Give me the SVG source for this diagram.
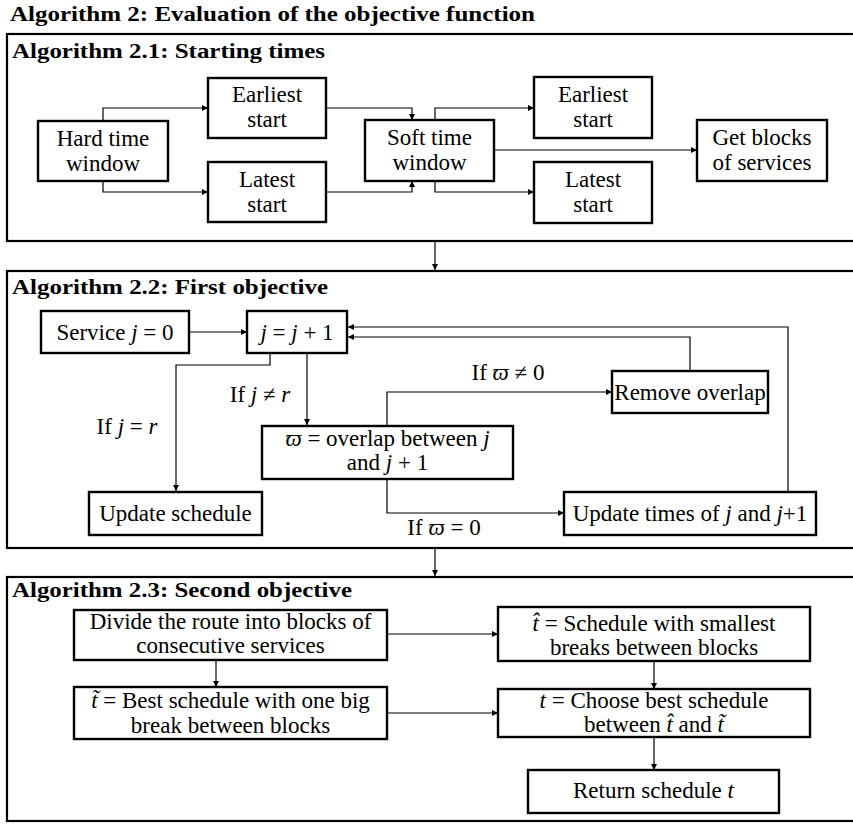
<svg xmlns="http://www.w3.org/2000/svg" width="853" height="824" viewBox="0 0 853 824">
<defs>
<marker id="ah" viewBox="0 0 10 10" refX="10" refY="5" markerWidth="8" markerHeight="6" markerUnits="userSpaceOnUse" orient="auto"><path d="M0,0 L10,5 L0,10 z" fill="#000"/></marker>
</defs>
<style>
.sec{fill:none;stroke:#000;stroke-width:2.2}
.box{fill:#fff;stroke:#000;stroke-width:2.4}
.c{fill:none;stroke:#000;stroke-width:1.2;marker-end:url(#ah)}
.t{font-family:"Liberation Serif","Times New Roman",serif;font-size:23px;fill:#000;text-anchor:middle}
.h{font-family:"Liberation Serif","Times New Roman",serif;font-weight:bold;font-size:20px;fill:#000}
.m{font-style:italic}
</style>
<rect width="853" height="824" fill="#fff"/>
<g id="sections">
<rect class="sec" x="7" y="34" width="860" height="207"/>
<rect class="sec" x="7" y="271" width="860" height="277"/>
<rect class="sec" x="7" y="577" width="860" height="244"/>
<text class="h" x="10" y="21" textLength="525" lengthAdjust="spacingAndGlyphs">Algorithm 2: Evaluation of the objective function</text>
<text class="h" x="12" y="58" textLength="313" lengthAdjust="spacingAndGlyphs">Algorithm 2.1: Starting times</text>
<text class="h" x="12" y="294" textLength="316" lengthAdjust="spacingAndGlyphs">Algorithm 2.2: First objective</text>
<text class="h" x="12" y="597" textLength="340" lengthAdjust="spacingAndGlyphs">Algorithm 2.3: Second objective</text>
</g>
<g id="connectors">
<path class="c" d="M103,121 V108 H208"/>
<path class="c" d="M103,181 V192 H208"/>
<path class="c" d="M326,108 H412 V120"/>
<path class="c" d="M326,192 H412 V181"/>
<path class="c" d="M435,120 V108 H534"/>
<path class="c" d="M435,181 V192 H534"/>
<path class="c" d="M494,150 H697"/>
<path class="c" d="M435,242 V270"/>
<path class="c" d="M189,332 H247"/>
<path class="c" d="M270,353 V365 H176 V491"/>
<path class="c" d="M307,353 V425"/>
<path class="c" d="M387,426 V392 H612"/>
<path class="c" d="M690,371 V337 H348"/>
<path class="c" d="M788,492 V327 H348"/>
<path class="c" d="M387,479 V513 H564"/>
<path class="c" d="M435,549 V576"/>
<path class="c" d="M387,634 H498"/>
<path class="c" d="M216,660 V687"/>
<path class="c" d="M387,713 H498"/>
<path class="c" d="M654,661 V689"/>
<path class="c" d="M654,737 V770"/>
</g>
<g id="hard">
<rect class="box" x="38" y="121" width="130" height="60"/>
<text class="t" x="103" y="146">Hard time</text>
<text class="t" x="103" y="171">window</text>
</g>
<g id="earliest1">
<rect class="box" x="208" y="78" width="118" height="60"/>
<text class="t" x="267" y="102">Earliest</text>
<text class="t" x="267" y="127">start</text>
</g>
<g id="latest1">
<rect class="box" x="208" y="162" width="118" height="60"/>
<text class="t" x="267" y="187">Latest</text>
<text class="t" x="267" y="212">start</text>
</g>
<g id="soft">
<rect class="box" x="365" y="120" width="129" height="61"/>
<text class="t" x="429.5" y="145">Soft time</text>
<text class="t" x="429.5" y="170">window</text>
</g>
<g id="earliest2">
<rect class="box" x="534" y="77" width="118" height="61"/>
<text class="t" x="593" y="102">Earliest</text>
<text class="t" x="593" y="127">start</text>
</g>
<g id="latest2">
<rect class="box" x="534" y="162" width="118" height="61"/>
<text class="t" x="593" y="187">Latest</text>
<text class="t" x="593" y="212">start</text>
</g>
<g id="blocks">
<rect class="box" x="697" y="120" width="130" height="61"/>
<text class="t" x="762" y="145">Get blocks</text>
<text class="t" x="762" y="170">of services</text>
</g>
<g id="service0">
<rect class="box" x="41" y="311" width="148" height="42"/>
<text class="t" x="115" y="340">Service <tspan class="m">j</tspan> = 0</text>
</g>
<g id="inc">
<rect class="box" x="247" y="311" width="100" height="42"/>
<text class="t" x="297" y="340"><tspan class="m">j</tspan> = <tspan class="m">j</tspan> + 1</text>
</g>
<g id="update">
<rect class="box" x="89" y="492" width="173" height="43"/>
<text class="t" x="175.5" y="521">Update schedule</text>
</g>
<g id="overlap">
<rect class="box" x="262" y="426" width="251" height="53"/>
<text class="t" x="387.5" y="446"><tspan class="m">ϖ</tspan> = overlap between <tspan class="m">j</tspan></text>
<text class="t" x="387.5" y="470">and <tspan class="m">j</tspan> + 1</text>
</g>
<g id="remove">
<rect class="box" x="612" y="371" width="156" height="42"/>
<text class="t" x="690" y="400">Remove overlap</text>
</g>
<g id="updtimes">
<rect class="box" x="564" y="492" width="252" height="43"/>
<text class="t" x="690" y="521">Update times of <tspan class="m">j</tspan> and <tspan class="m">j</tspan>+1</text>
</g>
<g id="labels">
<text class="t" x="260" y="402">If <tspan class="m">j</tspan> ≠ <tspan class="m">r</tspan></text>
<text class="t" x="127" y="434">If <tspan class="m">j</tspan> = <tspan class="m">r</tspan></text>
<text class="t" x="508" y="380">If <tspan class="m">ϖ</tspan> ≠ 0</text>
<text class="t" x="444" y="535">If <tspan class="m">ϖ</tspan> = 0</text>
</g>
<g id="divide">
<rect class="box" x="74" y="610" width="313" height="50"/>
<text class="t" x="230.5" y="629">Divide the route into blocks of</text>
<text class="t" x="230.5" y="653">consecutive services</text>
</g>
<g id="tilde">
<rect class="box" x="74" y="687" width="313" height="52"/>
<text class="t" x="230.5" y="708"><tspan class="m">t̃</tspan> = Best schedule with one big</text>
<text class="t" x="230.5" y="733">break between blocks</text>
</g>
<g id="hat">
<rect class="box" x="498" y="607" width="312" height="54"/>
<text class="t" x="654" y="631"><tspan class="m">t̂</tspan> = Schedule with smallest</text>
<text class="t" x="654" y="655">breaks between blocks</text>
</g>
<g id="choose">
<rect class="box" x="498" y="689" width="312" height="48"/>
<text class="t" x="654" y="708"><tspan class="m">t</tspan> = Choose best schedule</text>
<text class="t" x="654" y="732">between <tspan class="m">t̂</tspan> and <tspan class="m">t̃</tspan></text>
</g>
<g id="return">
<rect class="box" x="528" y="770" width="251" height="43"/>
<text class="t" x="653.5" y="798">Return schedule <tspan class="m">t</tspan></text>
</g>
</svg>
